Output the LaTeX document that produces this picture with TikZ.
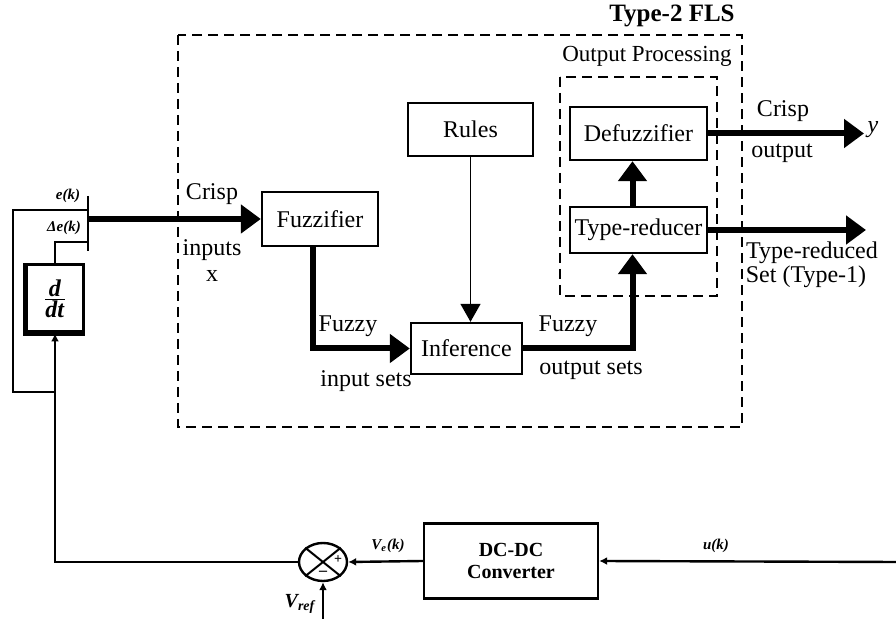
\documentclass[tikz,border=0pt]{standalone}
\usepackage{fontspec}
\setmainfont{Liberation Serif}
\usetikzlibrary{arrows.meta,shapes.geometric}

\begin{document}
\begin{tikzpicture}[
    x=0.5pt,
    y=-0.5pt,
    line join=miter,
    block/.style={
        draw,
        line width=1.2pt,
        inner sep=0pt,
        font=\fontsize{12}{14}\selectfont
    },
    dashbox/.style={
        line width=1.1pt,
        dash pattern=on 5pt off 3pt
    },
    fatflow/.style={
        line width=3pt,
        -{Triangle[length=10pt,width=14pt]}
    },
    thinflow/.style={
        line width=0.8pt,
        -{Triangle[length=9pt,width=10pt]}
    },
    signal/.style={
        line width=1.2pt
    },
    sigflow/.style={
        line width=1.2pt,
        -{Latex[length=4pt,width=4pt]}
    },
    lbl/.style={
        inner sep=0pt,
        font=\fontsize{12}{14}\selectfont
    },
    tinylbl/.style={
        inner sep=0pt,
        font=\fontsize{7.5}{8}\selectfont\bfseries\itshape
    }
]

\useasboundingbox (0,0) rectangle (896,619);

% =================================================
% Type-2 FLS blocks
% =================================================

\draw[dashbox] (178,35) rectangle (742,427);
\draw[dashbox] (560,77) rectangle (717,296);

\node[lbl, font=\fontsize{12.5}{14}\selectfont\bfseries] (flsTitle) at (672,16) {Type-2 FLS};
\node[lbl, font=\fontsize{11.5}{14}\selectfont] (opTitle) at (647,56) {Output Processing};

\node[block, minimum width=58pt, minimum height=27pt]   (fuzz)   at (320,219)   {Fuzzifier};
\node[block, minimum width=62.5pt, minimum height=26.5pt] (rules) at (470.5,129.5) {Rules};
\node[block, minimum width=55.5pt, minimum height=25.5pt] (infer) at (466.5,348.5) {Inference};
\node[block, minimum width=68.5pt, minimum height=26.5pt] (defuzz) at (638.5,133.5) {Defuzzifier};
\node[block, minimum width=68.5pt, minimum height=23pt]   (tred)   at (638.5,230)   {Type-reducer};

% =================================================
% Plant side blocks
% =================================================

\node[block, line width=1.5pt, minimum width=28.5pt, minimum height=33.5pt,
      font=\fontsize{12}{13}\selectfont] (ddt) at (55,298.5)
      {$\frac{\textbf{\textit{d}}}{\textbf{\textit{dt}}}$};
\draw[line width=2.4pt] (ddt.north west) -- (ddt.south west) -- (ddt.south east);

\node[block, minimum width=87pt, minimum height=37.5pt, align=center,
      font=\fontsize{10}{11}\selectfont\bfseries] (dcdc) at (511,561) {DC-DC\\Converter};

\node[draw, ellipse, line width=1.2pt, minimum width=24pt, minimum height=19pt,
      inner sep=0pt] (sum) at (323,562) {};
\draw[line width=1pt] (sum.north west) -- (sum.south east);
\draw[line width=1pt] (sum.south west) -- (sum.north east);
\node[tinylbl, font=\fontsize{7}{7}\selectfont\bfseries] (plus)  at (338,560) {+};
\node[tinylbl, font=\fontsize{8}{8}\selectfont\bfseries] (minus) at (323,573) {\textendash};

% =================================================
% Free ends
% =================================================

\coordinate (muxT)  at (88,196);
\coordinate (muxB)  at (88,251);
\coordinate (eIn)   at (88,210);
\coordinate (deIn)  at (88,242);
\coordinate (xIn)   at (88,219);
\coordinate (loopL) at (13,392);
\coordinate (tap)   at (55,392);
\coordinate (uIn)   at (896,562);
\coordinate (vref)  at (323,619);
\coordinate (yOut)  at (864,133.5);
\coordinate (trOut) at (866,230);

% =================================================
% FLS connectors
% =================================================

\draw[fatflow] (xIn) -- (fuzz.west);
\draw[fatflow] ([xshift=-3.5pt]fuzz.south) |- (infer.west);
\draw[thinflow] (rules.south) -- (rules.south |- infer.north);
\draw[fatflow] (infer.east) -| ([xshift=-3pt]tred.south);
\draw[fatflow] ([xshift=-3pt]tred.north) -- ([xshift=-3pt]defuzz.south);
\draw[fatflow] (defuzz.east) -- (yOut);
\draw[fatflow] (tred.east) -- (trOut);

% =================================================
% Feedback loop
% =================================================

\draw[signal] (muxT) -- (muxB);
\draw[signal] (eIn) -| (loopL) -- (tap);
\draw[signal] (deIn) -| (ddt.north);
\draw[sigflow] (sum.west) -| (ddt.south);
\draw[sigflow] (dcdc.west) -- (sum.east);
\draw[sigflow] (uIn) -- (dcdc.east);
\draw[sigflow] (vref) -- (sum.south);

% =================================================
% Labels
% =================================================

\node[lbl] (crispIn)   at (212,194) {Crisp};
\node[lbl] (inputsIn)  at (212,250) {inputs};
\node[lbl] (xLbl)      at (212,276) {x};
\node[lbl] (fuzzyIn)   at (348,326) {Fuzzy};
\node[lbl] (setsIn)    at (366,381) {input sets};
\node[lbl] (fuzzyOut)  at (568,326) {Fuzzy};
\node[lbl] (setsOut)   at (591,370) {output sets};
\node[lbl] (crispOut)  at (783,111) {Crisp};
\node[lbl] (outputLbl) at (782,153) {output};
\node[lbl, font=\fontsize{12}{14}\selectfont\itshape] (yLbl) at (873,130) {y};
\node[lbl] (trLbl)     at (812,253) {Type-reduced};
\node[lbl] (setLbl)    at (806,277) {Set (Type-1)};

\node[tinylbl] (eLbl)  at (68,196) {e(k)};
\node[tinylbl] (deLbl) at (64,228) {Δe(k)};
\node[tinylbl] (veLbl) at (388,546) {V\textsubscript{e}(k)};
\node[tinylbl] (uLbl)  at (716,546) {u(k)};
\node[tinylbl, font=\fontsize{10}{11}\selectfont\bfseries\itshape] (vrefLbl) at (300,604) {V\textsubscript{ref}};

\end{tikzpicture}
\end{document}
